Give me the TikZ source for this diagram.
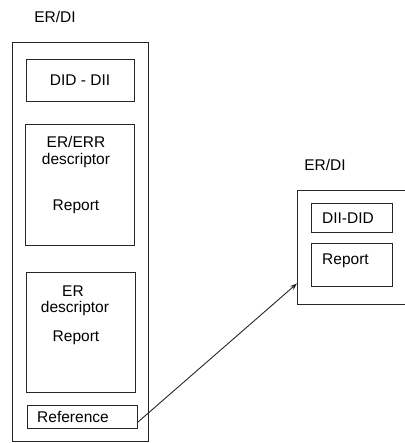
\documentclass[tikz,border=0pt]{standalone}
\usepackage{fontspec}
\setmainfont{Liberation Sans}
\usetikzlibrary{calc,arrows.meta}
\begin{document}
\begin{tikzpicture}[x=1pt,y=-1pt,
  box/.style={draw=black!85,line width=0.9pt,inner sep=0pt,rectangle},
  lbl/.style={inner sep=0pt,anchor=base,font=\fontsize{15.5}{18}\selectfont},
  conn/.style={draw=black!85,line width=0.9pt,-{Stealth[length=7pt,width=5pt]}}]
\useasboundingbox (0,0) rectangle (404,443);
% left structure
\node[lbl] (ltitle) at (55,23) {ER/DI};
\node[box,minimum width=136pt,minimum height=399pt] (outer) at (80,241.5) {};
\node[box,minimum width=108pt,minimum height=42pt] (did) at (80,80) {};
\node[lbl] (didtxt) at (80,86) {DID - DII};
\node[box,minimum width=109pt,minimum height=121pt] (err) at (79.5,184.5) {};
\node[lbl] (errt1) at (76,148) {ER/ERR};
\node[lbl] (errt2) at (76,164.5) {descriptor};
\node[lbl] (errt3) at (76,211) {Report};
\node[box,minimum width=109pt,minimum height=120pt] (er) at (80.5,332) {};
\node[lbl] (ert1) at (73,296) {ER};
\node[lbl] (ert2) at (75,312) {descriptor};
\node[lbl] (ert3) at (76,341) {Report};
\node[box,minimum width=110pt,minimum height=23pt] (ref) at (82,416.5) {};
\node[lbl] (reftxt) at (73,422) {Reference};
% right structure
\node[lbl] (rtitle) at (325,171) {ER/DI};
\coordinate (rtl) at (297,190);
\coordinate (rbl) at (297,304);
\coordinate (rtr) at (406,190);
\coordinate (rbr) at (406,304);
\draw[draw=black!85,line width=0.9pt] (rtr) -- (rtl) -- (rbl) -- (rbr);
\node[box,minimum width=81pt,minimum height=29pt] (dii) at (351.5,217.5) {};
\node[lbl] (diitxt) at (348,223) {DII-DID};
\node[box,minimum width=81pt,minimum height=43pt] (rep) at (351.5,264.5) {};
\node[lbl] (reptxt) at (345.5,264) {Report};
% connector
\coordinate (astart) at ($(ref.south east)!0.25!(ref.north east)$);
\coordinate (aend) at ($(rbl)!0.18!(rtl)$);
\draw[conn] (astart) -- (aend);
\end{tikzpicture}
\end{document}
